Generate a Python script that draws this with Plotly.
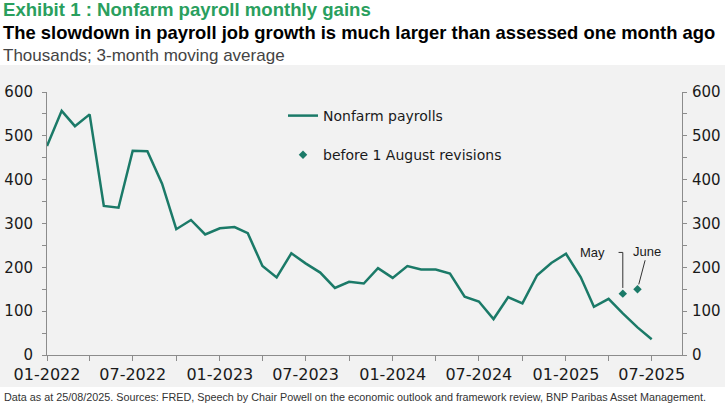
import plotly.graph_objects as go

# 3-month moving average of nonfarm payroll gains, thousands
months = [
    "2022-01", "2022-02", "2022-03", "2022-04", "2022-05", "2022-06",
    "2022-07", "2022-08", "2022-09", "2022-10", "2022-11", "2022-12",
    "2023-01", "2023-02", "2023-03", "2023-04", "2023-05", "2023-06",
    "2023-07", "2023-08", "2023-09", "2023-10", "2023-11", "2023-12",
    "2024-01", "2024-02", "2024-03", "2024-04", "2024-05", "2024-06",
    "2024-07", "2024-08", "2024-09", "2024-10", "2024-11", "2024-12",
    "2025-01", "2025-02", "2025-03", "2025-04", "2025-05", "2025-06",
    "2025-07",
]
payrolls = [
    477, 557, 522, 549, 340, 336,
    466, 465, 391, 287, 308, 275,
    289, 292, 278, 203, 177, 232,
    209, 188, 153, 167, 163, 198,
    176, 203, 195, 195, 186, 133,
    122, 82, 132, 118, 182, 210,
    231, 178, 110, 128, 95, 63,
    36,
]

# values published before the 1 August revisions
revised_months = ["2025-05", "2025-06"]
before_revision = [140, 150]
revision_labels = ["May", "June"]

TEAL = "#1b7a68"
GREEN = "#2a9f5e"
AXIS = "#8c8c8c"
TXT = "Liberation Sans"

W, H = 725, 405
L, R, T, B = 47, 43, 92, 50
PW, PH = W - L - R, H - T - B


def px(xp):
    return (xp - L) / PW


def py(yp):
    return (H - B - yp) / PH


fig = go.Figure()
fig.add_trace(go.Scatter(
    x=months, y=payrolls, mode="lines", name="Nonfarm payrolls",
    line=dict(color=TEAL, width=2.5), legendgroup="a",
))
fig.add_trace(go.Scatter(
    x=revised_months, y=before_revision, mode="markers",
    name="before 1 August revisions",
    marker=dict(symbol="diamond", size=6.5, color=TEAL), legendgroup="b",
))
# invisible trace so the right-hand axis gets drawn
fig.add_trace(go.Scatter(
    x=months[:1], y=payrolls[:1], yaxis="y2", mode="markers",
    marker=dict(opacity=0), showlegend=False, hoverinfo="skip",
))

tick_font = dict(family="DejaVu Sans", size=15, color="#1a1a1a")
yax = dict(
    range=[0, 600], dtick=100, showgrid=False, zeroline=False,
    showline=True, linecolor=AXIS, linewidth=1,
    ticks="outside", ticklen=4, tickcolor=AXIS,
    minor=dict(dtick=50, ticks="outside", ticklen=4, tickcolor=AXIS),
    tickfont=tick_font,
)

fig.update_layout(
    width=W, height=H,
    margin=dict(l=L, r=R, t=T, b=B, autoexpand=False),
    paper_bgcolor="white", plot_bgcolor="rgba(0,0,0,0)",
    font=dict(family="DejaVu Sans", color="#1a1a1a"),
    xaxis=dict(
        type="date", range=["2022-01-01", "2025-09-03"],
        dtick="M6", tick0="2022-01-01", tickformat="%m-%Y",
        showgrid=False, zeroline=False,
        showline=True, linecolor=AXIS, linewidth=1,
        ticks="outside", ticklen=5, tickcolor=AXIS,
        minor=dict(dtick="M3", ticks="outside", ticklen=5, tickcolor=AXIS),
        tickfont=dict(family="DejaVu Sans", size=16, color="#1a1a1a"),
    ),
    yaxis=dict(yax, ticklabelstandoff=6),
    yaxis2=dict(yax, overlaying="y", side="right", ticklabelstandoff=2),
    legend=dict(
        x=px(283), y=py(100), xanchor="left", yanchor="top",
        bgcolor="rgba(0,0,0,0)", traceorder="grouped", tracegroupgap=18,
        font=dict(family="DejaVu Sans", size=14, color="#1a1a1a"),
    ),
    showlegend=True,
)

# grey panel behind the chart
fig.add_shape(
    type="rect", xref="paper", yref="paper",
    x0=px(0), x1=px(W), y0=py(387), y1=py(65),
    fillcolor="#f2f2f2", line_width=0, layer="below",
)

# titles and footer
fig.add_annotation(
    xref="paper", yref="paper", x=px(1), y=py(9), xanchor="left", yanchor="middle",
    text="<b>Exhibit 1 : Nonfarm payroll monthly gains</b>", showarrow=False,
    font=dict(family=TXT, size=18.6, color=GREEN),
)
fig.add_annotation(
    xref="paper", yref="paper", x=px(1), y=py(33), xanchor="left", yanchor="middle",
    text="<b>The slowdown in payroll job growth is much larger than assessed one month ago</b>",
    showarrow=False,
    font=dict(family=TXT, size=18.4, color="#000000"),
)
fig.add_annotation(
    xref="paper", yref="paper", x=px(1), y=py(56), xanchor="left", yanchor="middle",
    text="Thousands; 3-month moving average", showarrow=False,
    font=dict(family=TXT, size=17, color="#444444"),
)
fig.add_annotation(
    xref="paper", yref="paper", x=px(2), y=py(397), xanchor="left", yanchor="middle",
    text="Data as at 25/08/2025. Sources: FRED, Speech by Chair Powell on the economic outlook and framework review, BNP Paribas Asset Management.",
    showarrow=False,
    font=dict(family=TXT, size=10.8, color="#333333"),
)

# May / June callouts
fig.add_annotation(
    x=revised_months[0], y=before_revision[0],
    text=revision_labels[0], showarrow=False, xshift=-30, yshift=41,
    font=dict(family=TXT, size=13, color="#1a1a1a"),
)
fig.add_shape(type="line", xref="x", yref="y",
              x0="2025-04-22", x1="2025-05-01", y0=234, y1=234,
              line=dict(color="#333333", width=1))
fig.add_shape(type="line", xref="x", yref="y",
              x0="2025-05-01", x1="2025-05-01", y0=234, y1=153,
              line=dict(color="#333333", width=1))
fig.add_annotation(
    x=revised_months[1], y=before_revision[1], ax=10, ay=-38,
    text=revision_labels[1], showarrow=True, arrowhead=0, arrowwidth=1,
    arrowcolor="#333333", standoff=5,
    font=dict(family=TXT, size=13, color="#1a1a1a"),
)

# drop the default page margin so the figure sits at the window's corner
fig.write_html(
    "out.html",
    config={"displayModeBar": False},
    post_script="document.body.style.margin='0px';",
)
